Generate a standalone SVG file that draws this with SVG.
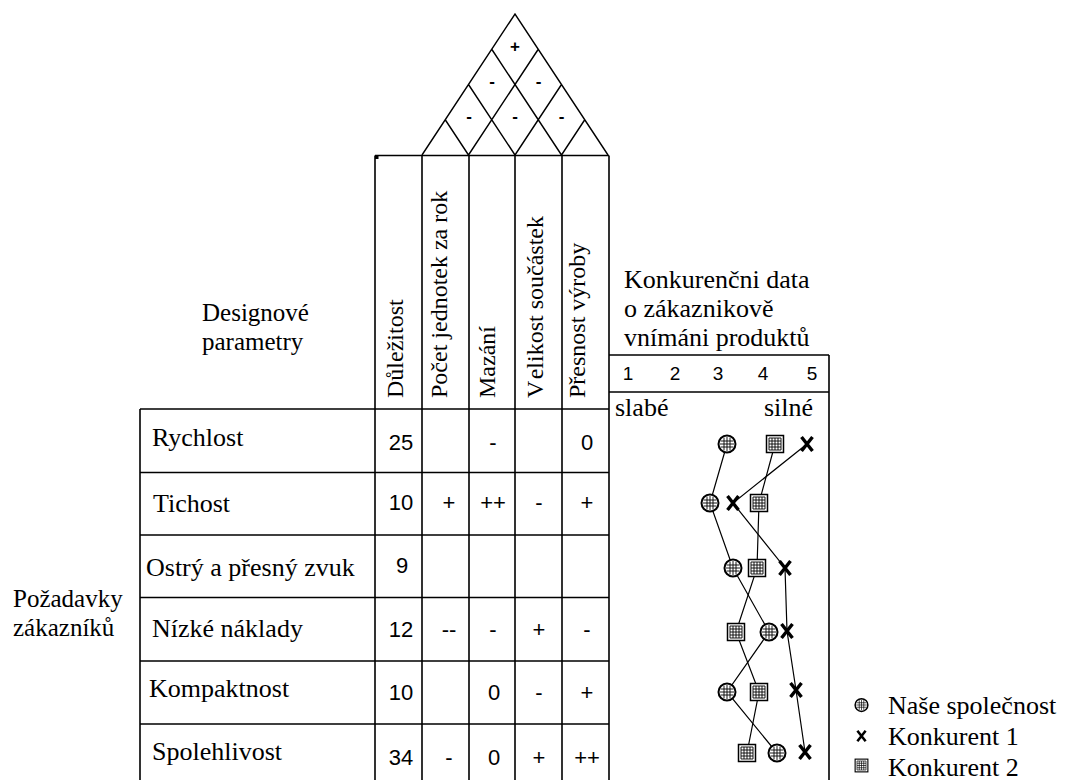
<svg xmlns="http://www.w3.org/2000/svg" width="1070" height="780" viewBox="0 0 1070 780">
<style>
.ln{stroke:#000;stroke-width:1.6;fill:none}
.rf{stroke:#000;stroke-width:1.4;fill:none}
.cl{stroke:#000;stroke-width:1.2;fill:none}
.t{font-family:"Liberation Serif","Times New Roman",serif;font-size:26px;fill:#000}
.h{font-family:"Liberation Serif","Times New Roman",serif;font-size:24px;fill:#000}
.n{font-family:"Liberation Sans",Arial,sans-serif;font-size:22px;fill:#000;text-anchor:middle}
.s{font-family:"Liberation Sans",Arial,sans-serif;font-size:17px;font-weight:bold;fill:#000;text-anchor:middle}
.a{font-family:"Liberation Sans",Arial,sans-serif;font-size:19px;fill:#000;text-anchor:middle}
</style>
<defs>
<g id="m-our">
<circle r="8.5" fill="#fff" stroke="#000" stroke-width="2"/>
<path d="M-3,-6.5V6.5M0,-7V7M3,-6.5V6.5M-6.5,-3H6.5M-7,0H7M-6.5,3H6.5" stroke="#000" stroke-width="0.9" fill="none"/>
</g>
<g id="m-k2">
<rect x="-8.5" y="-8.5" width="17" height="17" fill="#fff" stroke="#000" stroke-width="1.5"/>
<path d="M-6,-6H6M-6,-3H6M-6,0H6M-6,3H6M-6,6H6M-6,-6V6M-3,-6V6M0,-6V6M3,-6V6M6,-6V6" stroke="#000" stroke-width="0.9" fill="none"/>
</g>
<g id="m-k1">
<path d="M-5.5,-7L5.5,7M5.5,-7L-5.5,7" stroke="#000" stroke-width="3.4" fill="none"/>
</g>
</defs>
<rect width="1070" height="780" fill="#fff"/>

<g id="roof">
<path class="rf" d="M422,155L515,14L608,155M468.5,155L538.25,49.25M515,155L561.5,84.5M561.5,155L584.75,119.75M561.5,155L491.75,49.25M515,155L468.5,84.5M468.5,155L445.25,119.75"/>
<text class="s" x="515" y="51.5">+</text>
<text class="s" x="492" y="86.5">-</text>
<text class="s" x="538.5" y="86.5">-</text>
<text class="s" x="469" y="122">-</text>
<text class="s" x="515" y="122">-</text>
<text class="s" x="561.5" y="122">-</text>
</g>

<g id="grid">
<path class="ln" d="M375,155.5H609M375,155.5V780M422,155.5V780M469,155.5V780M515,155.5V780M562,155.5V780M609,155.5V780M140,409V780M140,409H609M140,472.5H609M140,535H609M140,597.5H609M140,661H609M140,724H609"/>
<rect x="375" y="155.5" width="3.5" height="3.5" fill="#000"/>
</g>

<g id="headers">
<text class="h" transform="translate(403,398) rotate(-90)">Důležitost</text>
<text class="h" transform="translate(447,398) rotate(-90)">Počet jednotek za rok</text>
<text class="h" transform="translate(495,398) rotate(-90)">Mazání</text>
<text class="h" transform="translate(543,398) rotate(-90)"><tspan>V</tspan><tspan dx="4">elikost součástek</tspan></text>
<text class="h" transform="translate(585,398) rotate(-90)">Přesnost výroby</text>
</g>

<g id="title-design">
<text class="t" x="202" y="321" style="font-size:25px">Designové</text>
<text class="t" x="202" y="350" style="font-size:25px">parametry</text>
</g>

<g id="title-req">
<text class="t" x="13" y="607" style="font-size:25px">Požadavky</text>
<text class="t" x="13" y="636" style="font-size:25px">zákazníků</text>
</g>

<g id="rows">
<text class="t" x="152" y="446">Rychlost</text>
<text class="t" x="153" y="512">Tichost</text>
<text class="t" x="146" y="576">Ostrý a přesný zvuk</text>
<text class="t" x="152" y="637">Nízké náklady</text>
<text class="t" x="149" y="697">Kompaktnost</text>
<text class="t" x="152" y="760">Spolehlivost</text>
</g>

<g id="cells">
<text class="n" x="401" y="450">25</text>
<text class="n" x="493" y="450">-</text>
<text class="n" x="587" y="450">0</text>
<text class="n" x="401" y="510">10</text>
<text class="n" x="449" y="510">+</text>
<text class="n" x="493" y="510">++</text>
<text class="n" x="539" y="510">-</text>
<text class="n" x="587" y="510">+</text>
<text class="n" x="402" y="573">9</text>
<text class="n" x="401" y="637">12</text>
<text class="n" x="449" y="637">--</text>
<text class="n" x="493" y="637">-</text>
<text class="n" x="539" y="637">+</text>
<text class="n" x="587" y="637">-</text>
<text class="n" x="401" y="700">10</text>
<text class="n" x="494" y="700">0</text>
<text class="n" x="539" y="700">-</text>
<text class="n" x="587" y="700">+</text>
<text class="n" x="401" y="765">34</text>
<text class="n" x="449" y="765">-</text>
<text class="n" x="494" y="765">0</text>
<text class="n" x="539" y="765">+</text>
<text class="n" x="587" y="765">++</text>
</g>

<g id="chart-frame">
<path class="ln" d="M609,355H829M609,392H829M829,355V780"/>
<text class="t" x="624" y="288">Konkurenčni data</text>
<text class="t" x="624" y="317">o zákaznikově</text>
<text class="t" x="624" y="346">vnímáni produktů</text>
<text class="a" x="628" y="380">1</text>
<text class="a" x="675" y="380">2</text>
<text class="a" x="718" y="380">3</text>
<text class="a" x="763" y="380">4</text>
<text class="a" x="812" y="380">5</text>
<text class="t" x="615" y="416">slabé</text>
<text class="t" x="813" y="416" text-anchor="end">silné</text>
</g>

<g id="connectors">
<polyline class="cl" points="727,444 710,503 733,568 769,632 727,692 777,753"/>
<polyline class="cl" points="775,444 759,503 757,568 736,632 759,692 747,753"/>
<polyline class="cl" points="807,444 733,503 785,568 787,631 796,690 805,752"/>
</g>

<g id="series-our">
<use href="#m-our" x="727" y="444"/>
<use href="#m-our" x="710" y="503"/>
<use href="#m-our" x="733" y="568"/>
<use href="#m-our" x="769" y="632"/>
<use href="#m-our" x="727" y="692"/>
<use href="#m-our" x="777" y="753"/>
</g>
<g id="series-k2">
<use href="#m-k2" x="775" y="444"/>
<use href="#m-k2" x="759" y="503"/>
<use href="#m-k2" x="757" y="568"/>
<use href="#m-k2" x="736" y="632"/>
<use href="#m-k2" x="759" y="692"/>
<use href="#m-k2" x="747" y="753"/>
</g>
<g id="series-k1">
<use href="#m-k1" x="807" y="444"/>
<use href="#m-k1" x="733" y="503"/>
<use href="#m-k1" x="785" y="568"/>
<use href="#m-k1" x="787" y="631"/>
<use href="#m-k1" x="796" y="690"/>
<use href="#m-k1" x="805" y="752"/>
</g>

<g id="legend">
<g transform="translate(861.5,705) scale(0.75)"><use href="#m-our"/></g>
<g transform="translate(861.5,736) scale(0.75)"><use href="#m-k1"/></g>
<g transform="translate(861.5,765.5) scale(0.75)"><use href="#m-k2"/></g>
<text class="t" x="888" y="714">Naše společnost</text>
<text class="t" x="888" y="745">Konkurent 1</text>
<text class="t" x="888" y="776">Konkurent 2</text>
</g>
</svg>
